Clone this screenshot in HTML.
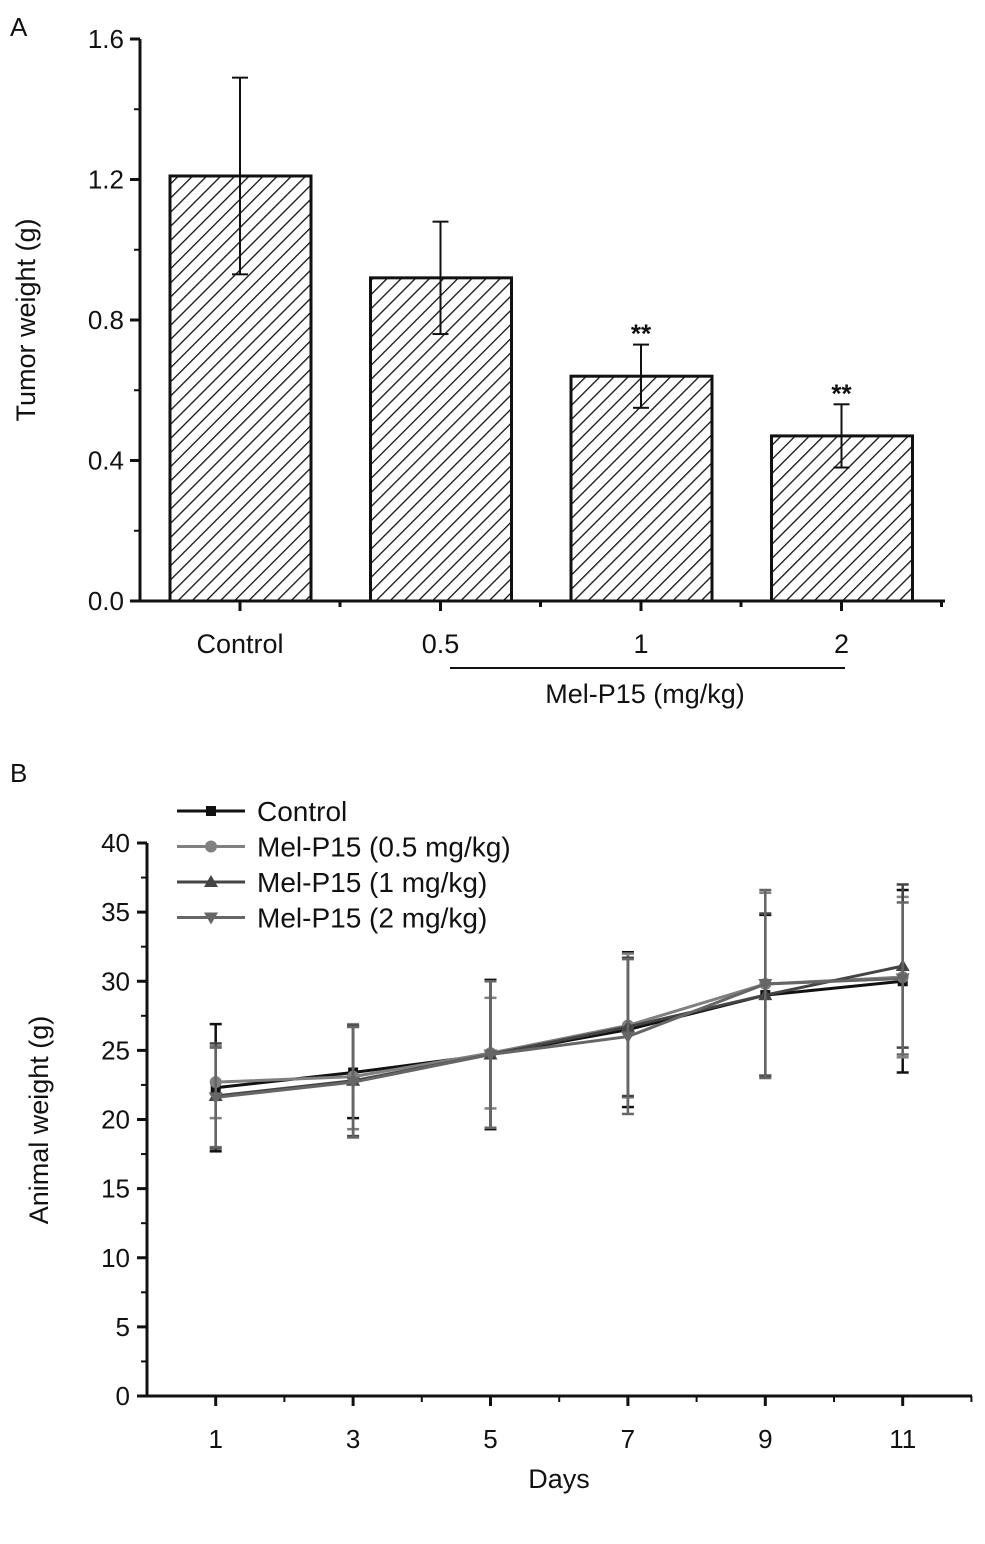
<!DOCTYPE html>
<html><head><meta charset="utf-8"><style>
body{margin:0;background:#fff}
svg text{font-family:"Liberation Sans",Arial,sans-serif;fill:#111}
</style></head><body>
<svg width="985" height="1539" viewBox="0 0 985 1539" xmlns="http://www.w3.org/2000/svg">
<defs>
<pattern id="hatch" patternUnits="userSpaceOnUse" width="10" height="10" patternTransform="rotate(45)">
<line x1="0" y1="0" x2="0" y2="10" stroke="#111" stroke-width="2.6"/>
</pattern>
</defs>
<g id="panelA"></g>
<g id="panelB"></g>
</svg>
<script>
// Panel A data
const aCats = ["Control","0.5","1","2"];
const aVals = [1.21,0.92,0.64,0.47];
const aErr = [0.28,0.16,0.09,0.09];
const aSig = ["","","**","**"];
const aTicks = [0.0,0.4,0.8,1.2,1.6];
// Panel B data
const bDays = [1,3,5,7,9,11];
const bNames = ["Control","Mel-P15 (0.5 mg/kg)","Mel-P15 (1 mg/kg)","Mel-P15 (2 mg/kg)"];
const bControl = [22.3,23.4,24.7,26.5,29.0,30.0];
const bLow = [22.7,23.1,24.8,26.8,29.8,30.3];
const bMid = [21.7,22.8,24.7,26.7,29.0,31.1];
const bHigh = [21.6,22.7,24.7,26.0,29.8,30.2];
const bControlErr = [4.6,3.3,5.4,5.6,5.8,6.6];
const bLowErr = [2.6,3.8,4.0,5.2,6.6,5.8];
const bMidErr = [3.8,4.0,5.3,5.0,5.9,5.9];
const bHighErr = [3.6,4.0,5.3,5.6,6.8,5.5];
const bYTicks = [0,5,10,15,20,25,30,35,40];

const NS="http://www.w3.org/2000/svg";
function mk(parent,tag,attrs,text){const e=document.createElementNS(NS,tag);for(const k in attrs)e.setAttribute(k,attrs[k]);if(text!==undefined)e.textContent=text;parent.appendChild(e);return e;}

// ---------- Panel A ----------
const A=document.getElementById('panelA');
const ay=v=>601-(v/1.6)*562;
const ax=i=>240+i*200.5;
let t=mk(A,'text',{x:10,y:36,'font-size':26},'A');


aVals.forEach((v,i)=>{
  const x=ax(i)-70;
  const r=mk(A,'rect',{x:x,y:ay(v),width:141,height:601-ay(v),fill:'url(#hatch)',stroke:'#111','stroke-width':3});
  
  
  const g=mk(A,'g',{stroke:'#111','stroke-width':2});
  
  
  mk(g,'line',{x1:ax(i),x2:ax(i),y1:ay(v+aErr[i]),y2:ay(v-aErr[i])});
  mk(g,'line',{x1:ax(i)-8,x2:ax(i)+8,y1:ay(v+aErr[i]),y2:ay(v+aErr[i])});
  mk(g,'line',{x1:ax(i)-8,x2:ax(i)+8,y1:ay(v-aErr[i]),y2:ay(v-aErr[i])});
  if(aSig[i]){const s=mk(A,'text',{x:ax(i),y:ay(v+aErr[i])-2,'font-size':26,'font-weight':'bold','text-anchor':'middle'},aSig[i]);
    
    }
  const l=mk(A,'text',{x:ax(i),y:653,'font-size':27,'text-anchor':'middle'},aCats[i]);
  
  
  mk(A,'line',{x1:ax(i),x2:ax(i),y1:601,y2:611,stroke:'#111','stroke-width':3});
  mk(A,'line',{x1:ax(i)+100,x2:ax(i)+100,y1:601,y2:607,stroke:'#111','stroke-width':3});
});
let axA=mk(A,'path',{d:'M140,39V601H945',fill:'none',stroke:'#111','stroke-width':3});


aTicks.forEach(v=>{
  mk(A,'line',{x1:130,x2:140,y1:ay(v),y2:ay(v),stroke:'#111','stroke-width':3});
  if(v<1.6) mk(A,'line',{x1:134,x2:140,y1:ay(v+0.2),y2:ay(v+0.2),stroke:'#111','stroke-width':2});
  const l=mk(A,'text',{x:124,y:ay(v)+9,'font-size':26,'text-anchor':'end'},v.toFixed(1));
  
  
});
t=mk(A,'text',{x:0,y:0,'font-size':27,'text-anchor':'middle',transform:'translate(35,320) rotate(-90)'},'Tumor weight (g)');


mk(A,'line',{x1:450,x2:845,y1:668,y2:668,stroke:'#111','stroke-width':2});
t=mk(A,'text',{x:645,y:703,'font-size':27,'text-anchor':'middle'},'Mel-P15 (mg/kg)');



// ---------- Panel B ----------
const B=document.getElementById('panelB');
const by=v=>1396-v*13.825;
const bx=d=>147+d*68.7;
t=mk(B,'text',{x:10,y:782,'font-size':26},'B');


let axB=mk(B,'path',{d:'M147,843V1396H972',fill:'none',stroke:'#111','stroke-width':3});


bYTicks.forEach(v=>{
  mk(B,'line',{x1:137,x2:147,y1:by(v),y2:by(v),stroke:'#111','stroke-width':3});
  if(v<40) mk(B,'line',{x1:141,x2:147,y1:by(v+2.5),y2:by(v+2.5),stroke:'#111','stroke-width':2});
  const l=mk(B,'text',{x:130,y:by(v)+9,'font-size':26,'text-anchor':'end'},String(v));
  
  
});
for(let d=1;d<=12;d++){
  const major=d%2===1;
  mk(B,'line',{x1:bx(d),x2:bx(d),y1:1396,y2:major?1406:1402,stroke:'#111','stroke-width':major?3:2});
}
bDays.forEach(d=>{
  const l=mk(B,'text',{x:bx(d),y:1448,'font-size':26,'text-anchor':'middle'},String(d));
  
  
});
t=mk(B,'text',{x:559,y:1488,'font-size':27,'text-anchor':'middle'},'Days');


t=mk(B,'text',{x:0,y:0,'font-size':27,'text-anchor':'middle',transform:'translate(48,1120) rotate(-90)'},'Animal weight (g)');



const series=[bControl,bLow,bMid,bHigh];
const errs=[bControlErr,bLowErr,bMidErr,bHighErr];
const colors=['#111','#808080','#444','#666'];
const markers=['square','circle','up','down'];
function marker(g,type,x,y,c){
  if(type==='square')mk(g,'rect',{x:x-5,y:y-5,width:10,height:10,fill:c});
  else if(type==='circle')mk(g,'circle',{cx:x,cy:y,r:6,fill:c});
  else if(type==='up')mk(g,'path',{d:`M${x},${y-7}L${x+7},${y+5}L${x-7},${y+5}Z`,fill:c});
  else mk(g,'path',{d:`M${x},${y+7}L${x+7},${y-5}L${x-7},${y-5}Z`,fill:c});
}
series.forEach((s,si)=>{
  const g=mk(B,'g',{});
  
  
  const c=colors[si];
  s.forEach((v,i)=>{
    const x=bx(bDays[i]),e=errs[si][i];
    mk(g,'line',{x1:x,x2:x,y1:by(v+e),y2:by(v-e),stroke:c,'stroke-width':2.5});
    mk(g,'line',{x1:x-6,x2:x+6,y1:by(v+e),y2:by(v+e),stroke:c,'stroke-width':2.5});
    mk(g,'line',{x1:x-6,x2:x+6,y1:by(v-e),y2:by(v-e),stroke:c,'stroke-width':2.5});
  });
  mk(g,'polyline',{points:s.map((v,i)=>bx(bDays[i])+','+by(v)).join(' '),fill:'none',stroke:c,'stroke-width':3});
  s.forEach((v,i)=>marker(g,markers[si],bx(bDays[i]),by(v),c));
});
// legend
bNames.forEach((n,i)=>{
  const y=811+i*35.5;
  const g=mk(B,'g',{});
  
  
  mk(g,'line',{x1:177,x2:245,y1:y,y2:y,stroke:colors[i],'stroke-width':3});
  marker(g,markers[i],211,y,colors[i]);
  mk(g,'text',{x:257,y:y+10,'font-size':28},n);
});
</script>
</body></html>
